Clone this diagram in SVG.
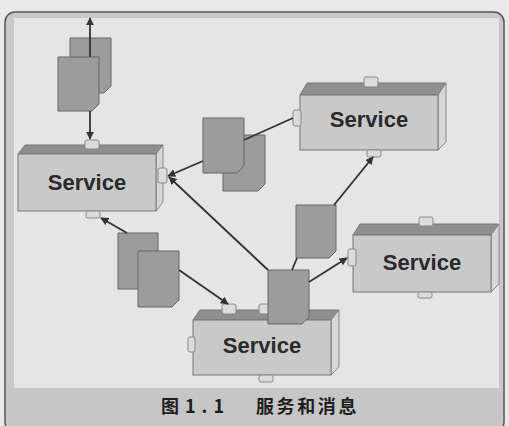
<svg xmlns="http://www.w3.org/2000/svg" width="509" height="426" viewBox="0 0 509 426">
<defs>
<style>
.front{fill:#c9c9c9;stroke:#777;stroke-width:1}
.top{fill:#8f8f8f;stroke:#777;stroke-width:1}
.side{fill:#d6d6d6;stroke:#888;stroke-width:1}
.port{fill:#dcdcdc;stroke:#888;stroke-width:1}
.doc{fill:#9c9c9c;stroke:#666;stroke-width:1}
.lbl{font-family:"Liberation Sans",Arial,sans-serif;font-weight:bold;font-size:22px;fill:#2a2a2a;text-anchor:middle}
.cap{font-family:"Noto Sans CJK SC","Noto Sans",sans-serif;font-size:18px;font-weight:bold;fill:#1e1e1e}
.conn line{stroke:#333;stroke-width:1.8;fill:none}
</style>
<marker id="ah" viewBox="0 0 10 10" refX="9" refY="5" markerWidth="4.5" markerHeight="4.5" orient="auto-start-reverse" markerUnits="strokeWidth">
<path d="M0,0 L10,5 L0,10 z" fill="#333"/>
</marker>
</defs>
<rect x="0" y="0" width="509" height="426" fill="#e9e9e9"/>
<rect x="5" y="12" width="499" height="420" rx="10" fill="#c8c8c8" stroke="#555" stroke-width="1.5"/>
<rect x="14" y="18" width="485" height="370" fill="#e5e5e5"/>
<rect x="8" y="388" width="493" height="38" fill="#c6c6c6"/>

<g id="service-left">
<polygon class="top" points="18,154 25,145 163,145 156,154"/>
<polygon class="side" points="156,154 163,145 163,202 156,211"/>
<rect class="front" x="18" y="154" width="138" height="57"/>
<rect class="port" x="85" y="140" width="14" height="9" rx="2"/>
<rect class="port" x="158" y="168" width="9" height="15" rx="2"/>
<rect class="port" x="86" y="211" width="14" height="7" rx="2"/>
<text class="lbl" x="87" y="190">Service</text>
</g>

<g id="service-top-right">
<polygon class="top" points="300,95 307,83 446,83 438,95"/>
<polygon class="side" points="438,95 446,83 446,142 438,150"/>
<rect class="front" x="300" y="95" width="138" height="55"/>
<rect class="port" x="364" y="77" width="14" height="10" rx="2"/>
<rect class="port" x="293" y="110" width="8" height="16" rx="2"/>
<rect class="port" x="367" y="150" width="14" height="7" rx="2"/>
<text class="lbl" x="369" y="127">Service</text>
</g>

<g id="service-right">
<polygon class="top" points="353,235 360,224 499,224 491,235"/>
<polygon class="side" points="491,235 499,224 499,284 491,292"/>
<rect class="front" x="353" y="235" width="138" height="57"/>
<rect class="port" x="419" y="217" width="14" height="9" rx="2"/>
<rect class="port" x="348" y="249" width="8" height="17" rx="2"/>
<rect class="port" x="418" y="292" width="14" height="6" rx="2"/>
<text class="lbl" x="422" y="270">Service</text>
</g>

<g id="service-bottom">
<polygon class="top" points="193,320 200,310 339,310 331,320"/>
<polygon class="side" points="331,320 339,310 339,367 331,375"/>
<rect class="front" x="193" y="320" width="138" height="55"/>
<rect class="port" x="222" y="304" width="14" height="10" rx="2"/>
<rect class="port" x="259" y="304" width="14" height="10" rx="2"/>
<rect class="port" x="188" y="337" width="7" height="15" rx="2"/>
<rect class="port" x="259" y="375" width="14" height="7" rx="2"/>
<text class="lbl" x="262" y="353">Service</text>
</g>

<g id="msg-top-left">
<path class="doc" d="M70,38 h41 v48 l-7,7 h-34 z"/>
<path class="doc" d="M58,57 h41 v47 l-7,7 h-34 z"/>
</g>
<g id="msg-middle">
<path class="doc" d="M223,135 h42 v49 l-7,7 h-35 z"/>
<path class="doc" d="M203,118 h41 v48 l-7,7 h-34 z"/>
</g>
<g id="msg-bottom-left">
<path class="doc" d="M118,233 h40 v49 l-7,7 h-33 z"/>
<path class="doc" d="M138,251 h41 v49 l-7,7 h-34 z"/>
</g>
<g id="msg-right">
<path class="doc" d="M296,205 h40 v46 l-7,7 h-33 z"/>
</g>
<g id="msg-bottom">
<path class="doc" d="M268,270 h41 v47 l-7,7 h-34 z"/>
</g>

<g id="connectors" class="conn">
<line x1="90" y1="57" x2="90" y2="18" marker-end="url(#ah)"/>
<line x1="90" y1="111" x2="90" y2="139" marker-end="url(#ah)"/>
<line x1="293" y1="118" x2="244" y2="140"/>
<line x1="203" y1="161" x2="168" y2="176" marker-end="url(#ah)"/>
<line x1="268" y1="270" x2="169" y2="177" marker-end="url(#ah)"/>
<line x1="127" y1="233" x2="101" y2="218" marker-end="url(#ah)"/>
<line x1="179" y1="270" x2="228" y2="304" marker-end="url(#ah)"/>
<line x1="309" y1="282" x2="347" y2="258" marker-end="url(#ah)"/>
<line x1="292" y1="270" x2="297" y2="258"/>
<line x1="334" y1="205" x2="373" y2="157" marker-end="url(#ah)"/>
</g>

<text class="cap" x="161" y="413" letter-spacing="6">图1.1</text>
<text class="cap" x="256" y="413" letter-spacing="2.6">服务和消息</text>
</svg>
